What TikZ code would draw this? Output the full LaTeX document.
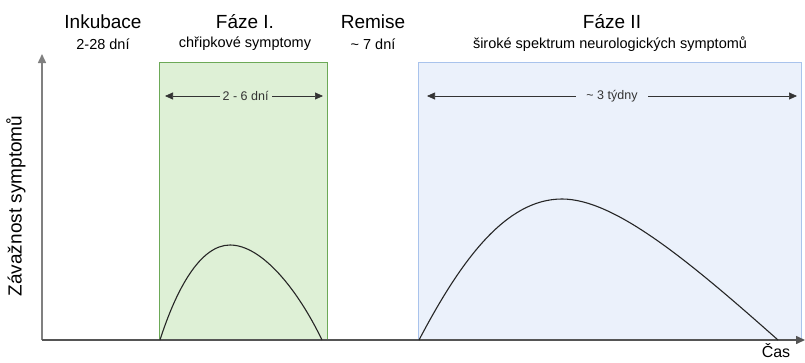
\documentclass[tikz,border=0pt]{standalone}
\usepackage{fontspec}
\setmainfont{Liberation Sans}
\usetikzlibrary{arrows.meta}
\definecolor{gfill}{HTML}{DEF0D6}
\definecolor{gline}{HTML}{6CA957}
\definecolor{bfill}{HTML}{EBF1FB}
\definecolor{bline}{HTML}{A9C3EC}
\definecolor{axisc}{HTML}{555555}
\begin{document}
\begin{tikzpicture}[x=1pt,y=-1pt,
  title/.style={font=\fontsize{19}{21}\selectfont, inner sep=0pt},
  sub/.style={font=\fontsize{14.5}{16}\selectfont, inner sep=0pt},
  dur/.style={font=\fontsize{12.5}{14}\selectfont, inner sep=3pt},
  durarrow/.style={{Triangle[length=8pt,width=7pt]}-{Triangle[length=8pt,width=7pt]}, line width=0.7pt, color=black!80},
  curve/.style={line width=1.1pt, black!85},
  axis/.style={line width=1.5pt, axisc, -{Triangle[length=9pt,width=8pt]}}]
\useasboundingbox (0,0) rectangle (805,362);
% phase boxes
\node[draw=gline, fill=gfill, line width=1pt, minimum width=168pt, minimum height=278pt, inner sep=0pt, anchor=north west] (g) at (159,62) {};
\node[draw=bline, fill=bfill, line width=1pt, minimum width=383pt, minimum height=278pt, inner sep=0pt, anchor=north west] (b) at (418,62) {};
% axes
\coordinate (o) at (42,340);
\coordinate (ytop) at (42,54);
\coordinate (xend) at (805,340);
\draw[axis, axisc!75] (o) -- (ytop);
\draw[axis] (o) -- (xend);
% titles
\node[title] (t1) at (103,22) {Inkubace};
\node[sub] (s1) at (103,44) {2-28 dní};
\node[title] (t2) at (245,22) {Fáze I.};
\node[sub] (s2) at (245,44) {chřipkové symptomy};
\node[title] (t3) at (373,22) {Remise};
\node[sub] (s3) at (373,44) {\textasciitilde{} 7 dní};
\node[title] (t4) at (612,22) {Fáze II};
\node[sub] (s4) at (610,44) {široké spektrum neurologických symptomů};
% duration arrows
\coordinate (a1l) at (165,96);
\coordinate (a1r) at (323,96);
\draw[durarrow] (a1l) -- node[dur, fill=gfill, pos=0.51] (d1) {2 - 6 dní} (a1r);
\coordinate (a2l) at (427,96);
\coordinate (a2r) at (797,96);
\draw[durarrow] (a2l) -- node[dur, fill=bfill, inner xsep=10pt] (d2) {\textasciitilde{} 3 týdny} (a2r);
% curves
\coordinate (c1s) at (160,340);
\coordinate (c1p) at (230,245);
\coordinate (c1e) at (322,340);
\draw[curve] (c1s) .. controls (176,290) and (200,245) .. (c1p) .. controls (262,245) and (298,290) .. (c1e);
\coordinate (c2s) at (419,340);
\coordinate (c2p) at (562,199);
\coordinate (c2e) at (778,340);
\draw[curve] (c2s) .. controls (460,262) and (505,199) .. (c2p) .. controls (615,199) and (690,262) .. (c2e);
% axis labels
\node[title, rotate=90] (yl) at (16,206) {Závažnost symptomů};
\node[title, font=\fontsize{16}{18}\selectfont, anchor=base] (xl) at (776,357) {Čas};
\end{tikzpicture}
\end{document}
